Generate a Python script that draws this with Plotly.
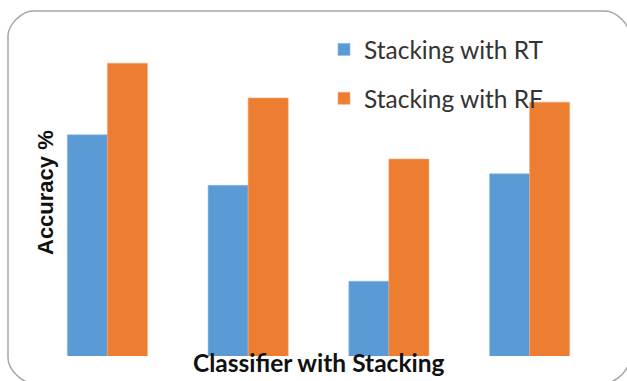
import plotly.graph_objects as go

# Accuracy (%) of the two stacking ensembles for each base classifier
classifiers = ["Classifier 1", "Classifier 2", "Classifier 3", "Classifier 4"]
acc_rt = [91.0, 86.2, 77.1, 87.3]
acc_rf = [97.8, 94.5, 88.7, 94.1]
series_names = ["Stacking with RT", "Stacking with RF"]
y_range = [70, 100]

WIDTH, HEIGHT = 627, 381
M_L, M_R, M_T, M_B = 37, 27, 40, 25
PW = WIDTH - M_L - M_R
PH = HEIGHT - M_T - M_B


def px_x(x):
    return (x - M_L) / PW


def px_y(y):
    return (HEIGHT - M_B - y) / PH


fig = go.Figure()
fig.add_trace(go.Bar(
    x=classifiers, y=acc_rt, name=series_names[0], legendgroup="rt",
    marker=dict(color="#5B9BD5", line=dict(color="#8DB9E2", width=0.6)),
))
fig.add_trace(go.Bar(
    x=classifiers, y=acc_rf, name=series_names[1], legendgroup="rf",
    marker=dict(color="#ED7D31", line=dict(color="#F3A878", width=0.6)),
))

# rounded chart-area frame
x0, y0, x1, y1, r = 8, 11, 630, 383, 25
k = 0.45 * r
pts = [
    f"M{px_x(x0 + r)},{px_y(y0)}",
    f"L{px_x(x1 - r)},{px_y(y0)}",
    f"C{px_x(x1 - r + k)},{px_y(y0)} {px_x(x1)},{px_y(y0 + r - k)} {px_x(x1)},{px_y(y0 + r)}",
    f"L{px_x(x1)},{px_y(y1 - r)}",
    f"C{px_x(x1)},{px_y(y1 - r + k)} {px_x(x1 - r + k)},{px_y(y1)} {px_x(x1 - r)},{px_y(y1)}",
    f"L{px_x(x0 + r)},{px_y(y1)}",
    f"C{px_x(x0 + r - k)},{px_y(y1)} {px_x(x0)},{px_y(y1 - r + k)} {px_x(x0)},{px_y(y1 - r)}",
    f"L{px_x(x0)},{px_y(y0 + r)}",
    f"C{px_x(x0)},{px_y(y0 + r - k)} {px_x(x0 + r - k)},{px_y(y0)} {px_x(x0 + r)},{px_y(y0)}",
    "Z",
]
fig.add_shape(type="path", xref="paper", yref="paper", path=" ".join(pts),
              line=dict(color="#A6A6A6", width=1.5), fillcolor="rgba(0,0,0,0)",
              layer="below")

fig.add_annotation(
    text="Accuracy %", textangle=-90, xref="paper", yref="paper",
    x=px_x(45), y=px_y(193), xanchor="center", yanchor="middle", showarrow=False,
    font=dict(family="Liberation Sans", size=22, color="#111111", weight="bold"),
)
fig.add_annotation(
    text="Classifier with Stacking", xref="paper", yref="paper",
    x=px_x(319), y=px_y(362), xanchor="center", yanchor="middle", showarrow=False,
    font=dict(family="Lato", size=24.5, color="#111111", weight="bold"),
)

fig.update_layout(
    width=WIDTH, height=HEIGHT,
    margin=dict(l=M_L, r=M_R, t=M_T, b=M_B),
    paper_bgcolor="white", plot_bgcolor="white",
    barmode="group", bargap=0.431, bargroupgap=0,
    showlegend=True,
    legend=dict(
        x=px_x(324), y=px_y(27), xanchor="left", yanchor="top",
        bgcolor="rgba(0,0,0,0)", tracegroupgap=14,
        font=dict(family="Lato", size=24.5, color="#333333"),
    ),
    xaxis=dict(showticklabels=False, showgrid=False, zeroline=False,
               showline=False, ticks=""),
    yaxis=dict(range=y_range, showticklabels=False, showgrid=False,
               zeroline=False, showline=False, ticks=""),
)

fig.write_html("out.html")
